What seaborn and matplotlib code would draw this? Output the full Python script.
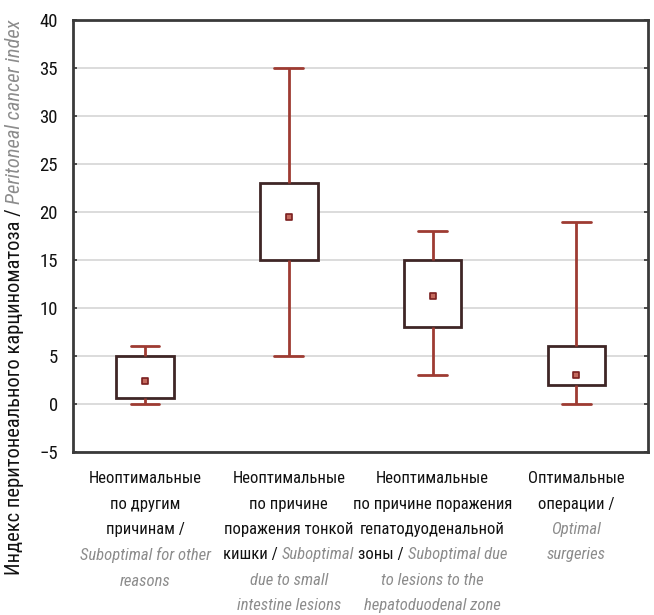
import matplotlib
matplotlib.use("Agg")
import matplotlib.pyplot as plt
from matplotlib.offsetbox import TextArea, HPacker, VPacker, AnnotationBbox
import pandas as pd
import seaborn as sns

# box stats: min, q1, median, q3, max
groups = ["g1", "g2", "g3", "g4"]
mins = [0, 5, 3, 0]
q1s = [0.6, 15, 8, 2]
medians = [2.4, 19.5, 11.3, 3.0]
q3s = [5, 23, 15, 6.1]
maxs = [6.1, 35, 18, 19]

yticks = [-5, 0, 5, 10, 15, 20, 25, 30, 35, 40]

# category labels: lines of (text, is_english)
cat_labels = [
    [[("Неоптимальные", 0)], [("по другим", 0)], [("причинам /", 0)],
     [("Suboptimal for other", 1)], [("reasons", 1)]],
    [[("Неоптимальные", 0)], [("по причине", 0)], [("поражения тонкой", 0)],
     [("кишки / ", 0), ("Suboptimal", 1)], [("due to small", 1)], [("intestine lesions", 1)]],
    [[("Неоптимальные", 0)], [("по причине поражения", 0)], [("гепатодуоденальной", 0)],
     [("зоны / ", 0), ("Suboptimal due", 1)], [("to lesions to the", 1)], [("hepatoduodenal zone", 1)]],
    [[("Оптимальные", 0)], [("операции /", 0)], [("Optimal", 1)], [("surgeries", 1)]],
]
ylabel_ru = "Индекс перитонеального карциноматоза / "
ylabel_en = "Peritoneal cancer index"

# five points per group give exactly these quartiles with whis=(0, 100)
rows = []
for g, a, b, c, d, e in zip(groups, mins, q1s, medians, q3s, maxs):
    for v in (a, b, c, d, e):
        rows.append({"group": g, "value": v})
df = pd.DataFrame(rows)
med_df = pd.DataFrame({"group": groups, "value": medians})

sns.set_theme(style="white")
plt.rcParams['font.family'] = ['Roboto Condensed', 'DejaVu Sans']

box_col = "#3f2626"
whisk_col = "#9e3b32"
gray = "#8c8c8c"
fs = 12

fig = plt.figure(figsize=(6.54, 6.15), dpi=100)
ax = fig.add_axes([0.112, 0.265, 0.879, 0.702])

ax.yaxis.grid(True, color="#d6d6d6", linewidth=1.2, zorder=0)
ax.set_axisbelow(True)

sns.boxplot(data=df, x="group", y="value", order=groups, whis=(0, 100), width=0.4,
            ax=ax, zorder=2,
            boxprops={"facecolor": "white", "edgecolor": box_col, "linewidth": 2},
            whiskerprops={"color": whisk_col, "linewidth": 2},
            capprops={"color": whisk_col, "linewidth": 2},
            medianprops={"visible": False},
            showfliers=False)

ax.scatter(range(len(groups)), med_df["value"], marker="s", s=16,
           facecolor="#c46a5e", edgecolor="#7a1f1f", linewidth=1.2, zorder=5)

ax.set_xlim(-0.5, 3.5)
ax.set_ylim(-5, 40)
ax.set_yticks(yticks)
ax.set_yticklabels([str(t) if t >= 0 else "\u22125" for t in yticks], fontsize=13.5, color="#111111")
ax.set_xticks(range(len(groups)))
ax.set_xticklabels([""] * len(groups))
ax.set_xlabel("")
ax.set_ylabel("")
ax.tick_params(axis="y", direction="in", length=3, width=1.2, right=True, left=True,
               color="#333333", pad=11)
ax.tick_params(axis="x", direction="in", length=3, width=1.2, color="#333333")
for s in ax.spines.values():
    s.set_visible(True)
    s.set_color("#3a3a3a")
    s.set_linewidth(2)

# category labels under the axis
for i, lines in enumerate(cat_labels):
    line_boxes = []
    for line in lines:
        parts = []
        for txt, en in line:
            props = dict(fontsize=fs, color=gray if en else "#111111",
                         style="italic" if en else "normal")
            parts.append(TextArea(txt, textprops=props))
        line_boxes.append(HPacker(children=parts, align="baseline", pad=0, sep=0))
    vbox = VPacker(children=line_boxes, align="center", pad=0, sep=7.4)
    ab = AnnotationBbox(vbox, (i, 0), xycoords=ax.get_xaxis_transform(),
                        xybox=(0, -14), boxcoords="offset points",
                        box_alignment=(0.5, 1), frameon=False, pad=0)
    ax.add_artist(ab)

# y label in two styles
t1 = fig.text(0.022, 0.065, ylabel_ru, rotation=90, ha="center", va="bottom",
              fontsize=14.8, color="#111111")
fig.canvas.draw()
bb = t1.get_window_extent(fig.canvas.get_renderer()).transformed(fig.transFigure.inverted())
fig.text(0.022, bb.y1, ylabel_en, rotation=90, ha="center", va="bottom",
         fontsize=14.8, color=gray, style="italic")

fig.savefig("out.png", dpi=100)
